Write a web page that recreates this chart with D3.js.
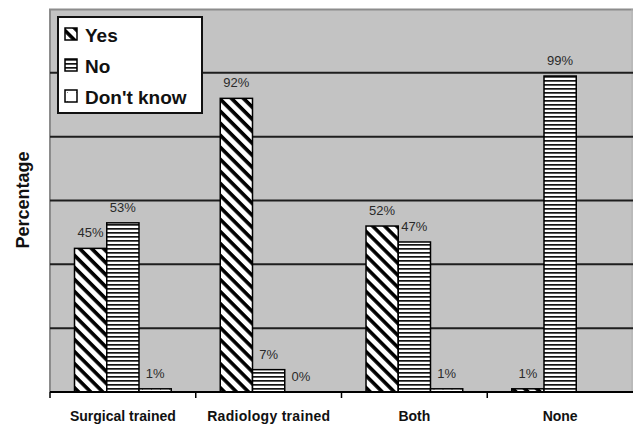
<!DOCTYPE html>
<html>
<head>
<meta charset="utf-8">
<script src="https://cdn.jsdelivr.net/npm/d3@7"></script>
<style>
  html, body { margin: 0; padding: 0; background: #fff; }
  svg { display: block; }
  text { font-family: "Liberation Sans", Arial, sans-serif; }
</style>
</head>
<body>
<svg id="chart" width="633" height="424"></svg>
<script>
// Categories of respondent training and the answer series
const categories = ["Surgical trained", "Radiology trained", "Both", "None"];
const seriesNames = ["Yes", "No", "Don't know"];
const yesValues = [45, 92, 52, 1];
const noValues = [53, 7, 47, 99];
const dontKnowValues = [1, 0, 1, null];
const gridTicks = [20, 40, 60, 80, 100];

const seriesValues = [yesValues, noValues, dontKnowValues];
const rows = categories.map((c, i) => ({
  category: c,
  values: seriesNames.map((s, k) => ({ series: s, value: seriesValues[k][i] }))
}));

const W = 633, H = 424;
const plot = { left: 50, right: 633, top: 9, bottom: 392 };

const svg = d3.select("#chart");
const defs = svg.append("defs");

// Fill patterns: diagonal hatch, horizontal lines, sparse dots
const pYes = defs.append("pattern")
  .attr("id", "pat-yes").attr("patternUnits", "userSpaceOnUse")
  .attr("width", 8.5).attr("height", 8.5)
  .attr("patternTransform", "rotate(45)");
pYes.append("rect").attr("width", 8.5).attr("height", 8.5).attr("fill", "#fff");
pYes.append("rect").attr("width", 8.5).attr("height", 3.6).attr("fill", "#000");

const pNo = defs.append("pattern")
  .attr("id", "pat-no").attr("patternUnits", "userSpaceOnUse")
  .attr("width", 8).attr("height", 4);
pNo.append("rect").attr("width", 8).attr("height", 4).attr("fill", "#fff");
pNo.append("rect").attr("y", 0).attr("width", 8).attr("height", 1.7).attr("fill", "#141414");

const pDk = defs.append("pattern")
  .attr("id", "pat-dk").attr("patternUnits", "userSpaceOnUse")
  .attr("width", 9).attr("height", 9);
pDk.append("rect").attr("width", 9).attr("height", 9).attr("fill", "#fff");
pDk.append("rect").attr("x", 2).attr("y", 2).attr("width", 1).attr("height", 1).attr("fill", "#888");

const fills = { "Yes": "url(#pat-yes)", "No": "url(#pat-no)", "Don't know": "url(#pat-dk)" };

// Scales
const x0 = d3.scaleBand().domain(categories).range([plot.left, plot.right]).padding(0);
const x1 = d3.scaleBand().domain(seriesNames).range([0, x0.bandwidth()])
  .paddingInner(0).paddingOuter(0.76);
const y = d3.scaleLinear().domain([0, 120]).range([plot.bottom, plot.top]);

// Plot background and frame
svg.append("rect")
  .attr("x", plot.left).attr("y", plot.top)
  .attr("width", plot.right - plot.left).attr("height", plot.bottom - plot.top)
  .attr("fill", "#c3c3c3");
svg.append("path")
  .attr("d", `M${plot.left},${plot.bottom} V${plot.top + 0.5} H${plot.right}`)
  .attr("fill", "none").attr("stroke", "#8c8c8c").attr("stroke-width", 2);
svg.append("line")
  .attr("x1", plot.right - 1).attr("x2", plot.right - 1)
  .attr("y1", plot.top).attr("y2", plot.bottom)
  .attr("stroke", "#b0b0b0").attr("stroke-width", 1);

// Horizontal gridlines
svg.append("g").selectAll("line").data(gridTicks).join("line")
  .attr("x1", plot.left).attr("x2", plot.right)
  .attr("y1", d => y(d)).attr("y2", d => y(d))
  .attr("stroke", "#1e1e1e").attr("stroke-width", 2);

// Bars
const groups = svg.append("g").selectAll("g").data(rows).join("g")
  .attr("transform", d => `translate(${x0(d.category)},0)`);

groups.selectAll("rect")
  .data(d => d.values.filter(v => v.value !== null))
  .join("rect")
  .attr("x", d => x1(d.series))
  .attr("y", d => y(d.value))
  .attr("width", x1.bandwidth())
  .attr("height", d => Math.max(0, y(0) - y(d.value)))
  .attr("fill", d => fills[d.series])
  .attr("stroke", "#000").attr("stroke-width", 1.5);

// Value labels
groups.selectAll("text.val")
  .data(d => d.values.filter(v => v.value !== null))
  .join("text").attr("class", "val")
  .attr("x", d => x1(d.series) + x1.bandwidth() / 2)
  .attr("y", d => y(d.value) - 11)
  .attr("text-anchor", "middle")
  .attr("font-size", 13).attr("fill", "#2a2a2a")
  .text(d => d.value + "%");

// Category axis
const xAxis = svg.append("g").attr("transform", `translate(0,${plot.bottom})`);
xAxis.append("line")
  .attr("x1", plot.left).attr("x2", plot.right)
  .attr("stroke", "#000").attr("stroke-width", 2);
xAxis.selectAll("line.tick").data(categories).join("line").attr("class", "tick")
  .attr("x1", d => x0(d)).attr("x2", d => x0(d))
  .attr("y1", 0).attr("y2", 6)
  .attr("stroke", "#000").attr("stroke-width", 1.5);
xAxis.selectAll("text").data(categories).join("text")
  .attr("x", d => x0(d) + x0.bandwidth() / 2)
  .attr("y", 29)
  .attr("text-anchor", "middle")
  .attr("font-size", 14).attr("font-weight", "bold").attr("fill", "#111")
  .attr("textLength", d => d === "Radiology trained" ? 123 : null)
  .text(d => d);

// Y axis title
svg.append("text")
  .attr("transform", "translate(29,200) rotate(-90)")
  .attr("text-anchor", "middle")
  .attr("font-size", 18).attr("font-weight", "bold").attr("fill", "#111")
  .text("Percentage");

// Legend
const legend = svg.append("g");
legend.append("rect")
  .attr("x", 58).attr("y", 17).attr("width", 144).attr("height", 96)
  .attr("fill", "#fff").attr("stroke", "#111").attr("stroke-width", 2);
const items = legend.selectAll("g").data(seriesNames).join("g")
  .attr("transform", (d, i) => `translate(65,${28 + i * 31})`);
items.append("rect")
  .attr("width", 12).attr("height", 12)
  .attr("fill", d => fills[d])
  .attr("stroke", "#000").attr("stroke-width", 1.5);
items.append("text")
  .attr("x", 20).attr("y", 14)
  .attr("font-size", 19).attr("font-weight", "bold").attr("fill", "#111")
  .text(d => d);
</script>
</body>
</html>
